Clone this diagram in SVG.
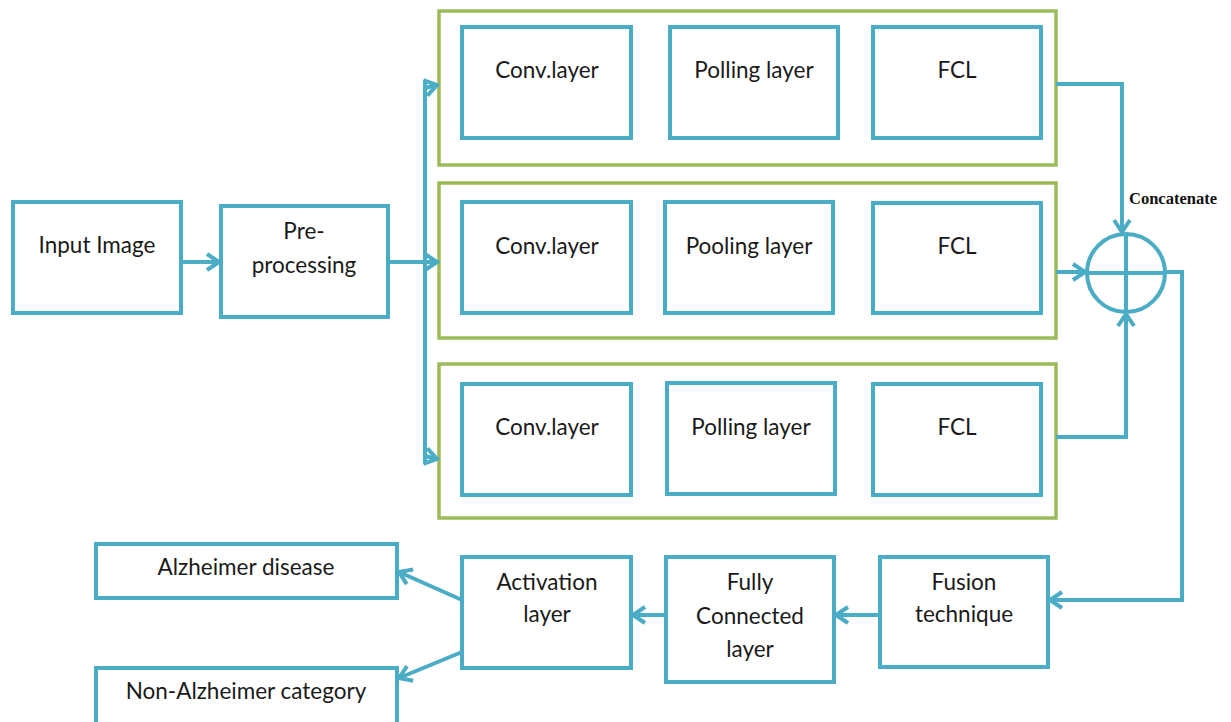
<svg xmlns="http://www.w3.org/2000/svg" width="1231" height="722" viewBox="0 0 1231 722">
  <style>
    .box { fill: #ffffff; stroke: #4BACC6; stroke-width: 4; }
    .group { fill: #ffffff; stroke: #9BBB59; stroke-width: 3.5; }
    .wire { fill: none; stroke: #4BACC6; stroke-width: 4; }
    .lbl { font-family: Lato, "Open Sans", "Liberation Sans", sans-serif; font-size: 22.5px; fill: #1a1a1a; text-anchor: middle; }
    .cat { font-family: "Liberation Serif", serif; font-size: 16.5px; font-weight: bold; fill: #111111; }
  </style>
  <defs>
    <marker id="arrowL" viewBox="0 0 20 20" refX="17" refY="10" markerWidth="20" markerHeight="20" markerUnits="userSpaceOnUse" orient="auto">
      <polyline points="5,2 17,10 5,18" fill="none" stroke="#4BACC6" stroke-width="4"/>
    </marker>
  </defs>

  <!-- branch containers -->
  <g id="branch1"><rect class="group" x="439" y="11" width="617" height="154"/></g>
  <g id="branch2"><rect class="group" x="439" y="183" width="617" height="155"/></g>
  <g id="branch3"><rect class="group" x="439" y="364" width="617" height="154"/></g>

  <g id="input">
    <rect class="box" x="13" y="202" width="168" height="111"/>
    <text class="lbl" x="97" y="253">Input Image</text>
  </g>
  <g id="preprocessing">
    <rect class="box" x="221" y="206" width="167" height="111"/>
    <text class="lbl" x="304" y="239">Pre-</text>
    <text class="lbl" x="304" y="273">processing</text>
  </g>

  <g id="conv1"><rect class="box" x="462" y="27" width="169" height="111"/><text class="lbl" x="547" y="78">Conv.layer</text></g>
  <g id="pool1"><rect class="box" x="670" y="27" width="168" height="111"/><text class="lbl" x="754" y="78">Polling layer</text></g>
  <g id="fcl1"><rect class="box" x="873" y="27" width="168" height="111"/><text class="lbl" x="957" y="78">FCL</text></g>

  <g id="conv2"><rect class="box" x="462" y="202" width="169" height="111"/><text class="lbl" x="547" y="254">Conv.layer</text></g>
  <g id="pool2"><rect class="box" x="665" y="202" width="168" height="111"/><text class="lbl" x="749" y="254">Pooling layer</text></g>
  <g id="fcl2"><rect class="box" x="873" y="203" width="168" height="110"/><text class="lbl" x="957" y="254">FCL</text></g>

  <g id="conv3"><rect class="box" x="462" y="384" width="169" height="111"/><text class="lbl" x="547" y="435">Conv.layer</text></g>
  <g id="pool3"><rect class="box" x="667" y="383" width="168" height="111"/><text class="lbl" x="751" y="435">Polling layer</text></g>
  <g id="fcl3"><rect class="box" x="873" y="384" width="168" height="111"/><text class="lbl" x="957" y="435">FCL</text></g>

  <g id="concat">
    <circle cx="1126" cy="273" r="39" fill="#ffffff" stroke="#4BACC6" stroke-width="4"/>
    <line x1="1087" y1="273" x2="1165" y2="273" stroke="#4BACC6" stroke-width="4"/>
    <line x1="1126" y1="234" x2="1126" y2="312" stroke="#4BACC6" stroke-width="4"/>
    <text class="cat" x="1129" y="204">Concatenate</text>
  </g>

  <g id="fusion">
    <rect class="box" x="880" y="557" width="168" height="110"/>
    <text class="lbl" x="964" y="590">Fusion</text>
    <text class="lbl" x="964" y="622">technique</text>
  </g>
  <g id="fully-connected">
    <rect class="box" x="666" y="557" width="168" height="125"/>
    <text class="lbl" x="750" y="590">Fully</text>
    <text class="lbl" x="750" y="624">Connected</text>
    <text class="lbl" x="750" y="657">layer</text>
  </g>
  <g id="activation">
    <rect class="box" x="462" y="557" width="169" height="111"/>
    <text class="lbl" x="547" y="590">Activation</text>
    <text class="lbl" x="547" y="622">layer</text>
  </g>
  <g id="alzheimer">
    <rect class="box" x="96" y="544" width="301" height="54"/>
    <text class="lbl" x="246" y="575">Alzheimer disease</text>
  </g>
  <g id="non-alzheimer">
    <rect class="box" x="96" y="668" width="301" height="56"/>
    <text class="lbl" x="246" y="699">Non-Alzheimer category</text>
  </g>

  <g id="connectors">
    <line class="wire" x1="181" y1="262" x2="219" y2="262" marker-end="url(#arrowL)"/>
    <line class="wire" x1="388" y1="262" x2="437" y2="262" marker-end="url(#arrowL)"/>
    <line class="wire" x1="425" y1="82" x2="425" y2="462"/>
    <polyline class="wire" points="425,88 437,85" marker-end="url(#arrowL)"/>
    <polyline class="wire" points="425,456 437,459" marker-end="url(#arrowL)"/>
    <polyline class="wire" points="1056,84 1122,84 1122,232" marker-end="url(#arrowL)"/>
    <line class="wire" x1="1056" y1="272" x2="1085" y2="272" marker-end="url(#arrowL)"/>
    <polyline class="wire" points="1056,437 1126,437 1126,314" marker-end="url(#arrowL)"/>
    <polyline class="wire" points="1165,272 1182,272 1182,600 1050,600" marker-end="url(#arrowL)"/>
    <line class="wire" x1="880" y1="615" x2="836" y2="615" marker-end="url(#arrowL)"/>
    <line class="wire" x1="666" y1="615" x2="633" y2="615" marker-end="url(#arrowL)"/>
    <line class="wire" x1="462" y1="600" x2="399" y2="572" marker-end="url(#arrowL)"/>
    <line class="wire" x1="462" y1="652" x2="399" y2="678" marker-end="url(#arrowL)"/>
  </g>
</svg>
